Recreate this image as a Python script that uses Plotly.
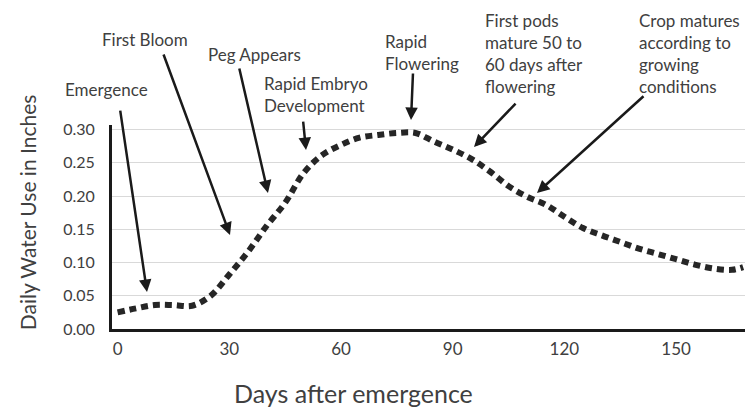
import plotly.graph_objects as go

# Data
days = [0, 5, 10, 15, 20, 25, 30, 35, 40, 45, 50, 55, 60, 65, 70, 75, 80, 85,
        90, 95, 100, 105, 110, 115, 120, 125, 130, 135, 140, 145, 150, 155, 160, 165, 168]
water_use = [0.025, 0.031, 0.036, 0.036, 0.035, 0.050, 0.082, 0.116, 0.155, 0.190,
             0.235, 0.262, 0.277, 0.288, 0.292, 0.295, 0.295, 0.282, 0.270, 0.256,
             0.237, 0.215, 0.199, 0.187, 0.169, 0.152, 0.141, 0.131, 0.121, 0.113,
             0.105, 0.097, 0.091, 0.089, 0.093]
x_ticks = [0, 30, 60, 90, 120, 150]
y_ticks = [0.00, 0.05, 0.10, 0.15, 0.20, 0.25, 0.30]

x_title = "Days after emergence"
y_title = "Daily Water Use in Inches"
stage_labels = ["Emergence", "First Bloom", "Peg Appears", "Rapid Embryo<br>Development",
                "Rapid<br>Flowering", "First pods<br>mature 50 to<br>60 days after<br>flowering",
                "Crop matures<br>according to<br>growing<br>conditions"]

FONT = "Lato"
TXT = "#404040"

fig = go.Figure()
fig.add_trace(go.Scatter(
    x=days, y=water_use, mode="lines", line_shape="spline",
    line=dict(color="#262626", width=6, dash="7px,5px"),
    showlegend=False, hoverinfo="skip"))

# label text positions (paper coords) and arrow geometry (tip in paper, tail offset in px)
text_pos = [(-0.0774, 1.1716), (-0.0190, 1.4167), (0.1485, 1.348), (0.237, 1.1495),
            (0.4281, 1.3554), (0.5861, 1.35), (0.8294, 1.35)]
arrow_tip = [(0.0553, 0.181), (0.1864, 0.461), (0.2464, 0.667), (0.3065, 0.877),
             (0.4724, 1.0245), (0.5719, 0.892), (0.6714, 0.667)]
arrow_tail = [(-27, -183), (-67, -182), (-29, -126), (-3, -30), (2, -48), (43, -45), (108, -98)]

anns = []
for lab, (tx, ty) in zip(stage_labels, text_pos):
    anns.append(dict(text=lab, x=tx, y=ty, xref="paper", yref="paper", showarrow=False,
                     xanchor="left", yanchor="middle", align="left",
                     font=dict(family=FONT, size=17, color=TXT)))
for (px, py), (ax, ay) in zip(arrow_tip, arrow_tail):
    anns.append(dict(text="", x=px, y=py, xref="paper", yref="paper", showarrow=True,
                     ax=ax, ay=ay, axref="pixel", ayref="pixel",
                     arrowhead=2, arrowsize=1, arrowwidth=2.5, arrowcolor="#1a1a1a"))

# axis titles (offset from the plot centre as in the reference)
anns.append(dict(text=x_title, x=0.3823, y=-0.316, xref="paper", yref="paper",
                 showarrow=False, xanchor="center", yanchor="middle",
                 font=dict(family=FONT, size=25, color=TXT)))
anns.append(dict(text=y_title, x=-0.134, y=0.5735, xref="paper", yref="paper",
                 showarrow=False, xanchor="center", yanchor="middle", textangle=-90,
                 font=dict(family=FONT, size=21, color=TXT)))

# the page body adds an 8px margin, so the figure is 8px smaller and margins shifted
fig.update_layout(
    width=748, height=399,
    margin=dict(l=104, r=11, t=117, b=78),
    paper_bgcolor="white", plot_bgcolor="white",
    font=dict(family=FONT, color=TXT),
    annotations=anns,
    xaxis=dict(range=[-1.5, 168.5], tickvals=x_ticks, showgrid=False, zeroline=False,
               showline=True, linecolor="#1a1a1a", linewidth=3, ticks="",
               ticklabelstandoff=3,
               tickfont=dict(size=17, color=TXT)),
    yaxis=dict(range=[0, 0.307], tickvals=y_ticks, tickformat=".2f", showgrid=True,
               gridcolor="#d9d9d9", gridwidth=1, zeroline=False,
               showline=True, linecolor="#1a1a1a", linewidth=3, ticks="",
               ticklabelstandoff=11,
               tickfont=dict(size=16, color=TXT)),
)

fig.write_html("out.html")
